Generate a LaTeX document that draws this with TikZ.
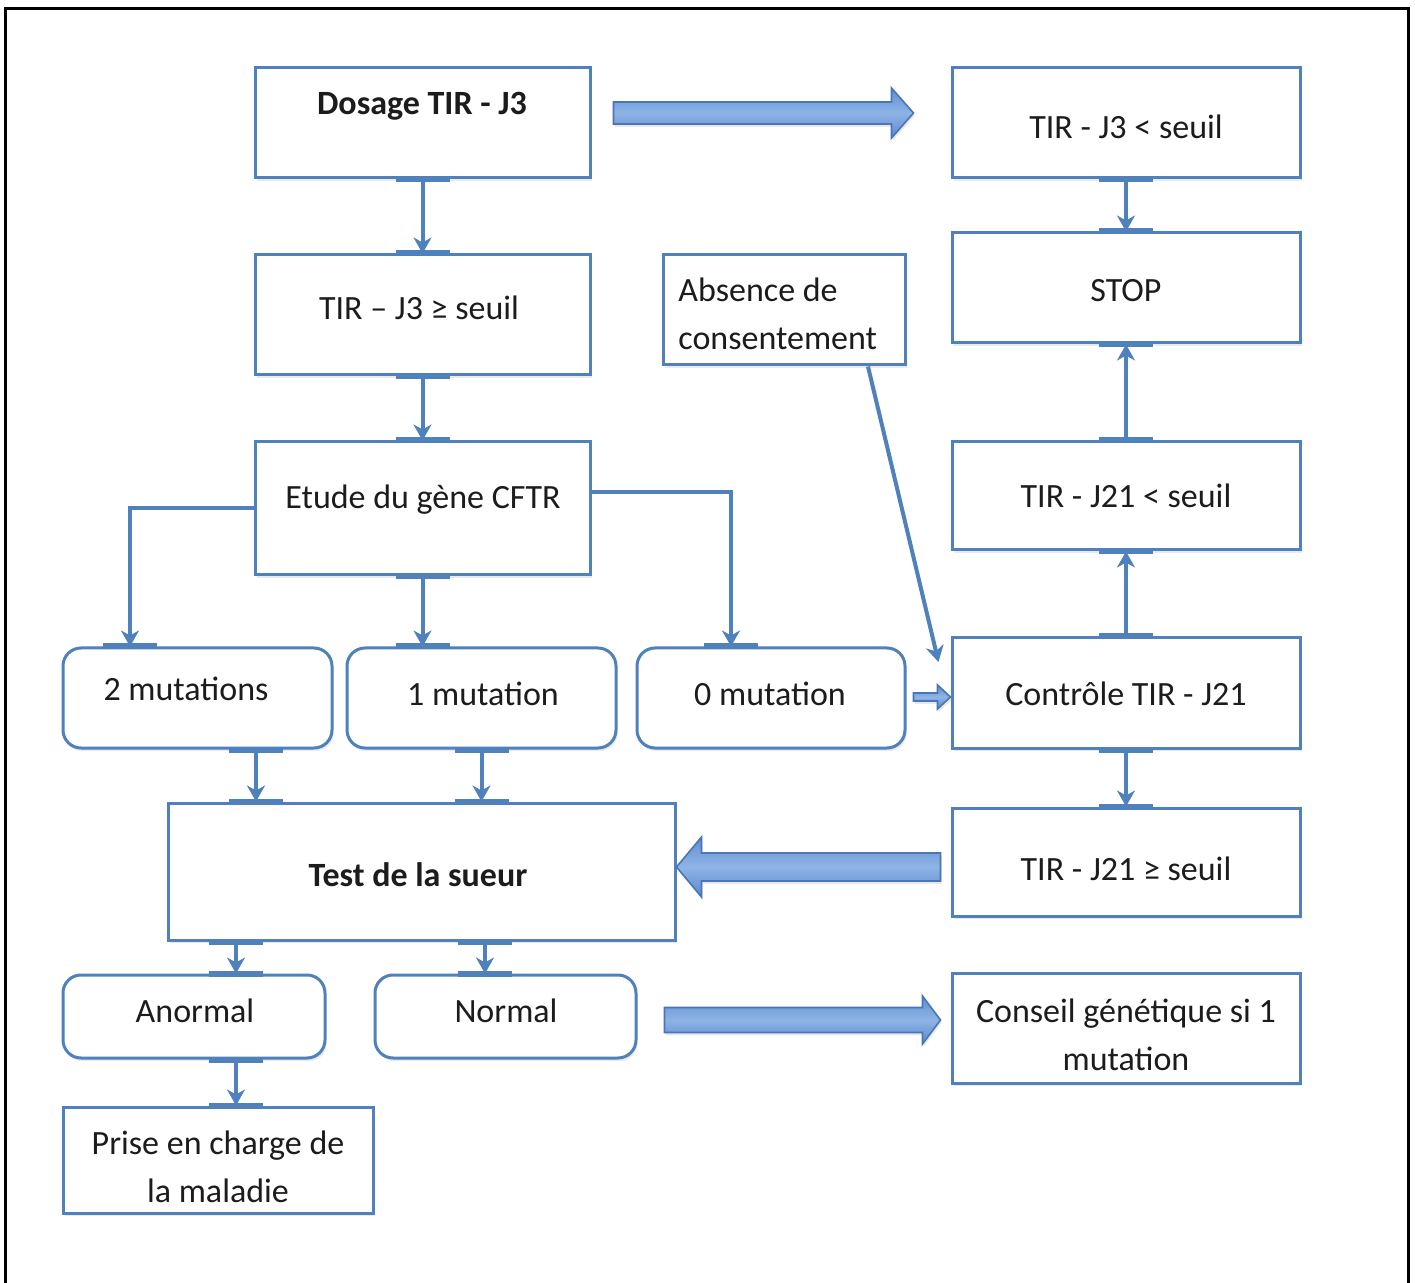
\documentclass[tikz,border=0pt]{standalone}
\usepackage{fontspec}
\setmainfont{Carlito}
\usetikzlibrary{arrows.meta,calc,shadows}
\definecolor{boxblue}{RGB}{79,129,189}
\definecolor{linkblue}{RGB}{79,129,189}
\definecolor{arrowedge}{RGB}{72,118,182}
\definecolor{arrowtop}{RGB}{98,142,208}
\definecolor{arrowmid}{RGB}{142,180,230}
\definecolor{arrowbot}{RGB}{92,136,204}
\definecolor{ink}{RGB}{28,28,28}

\tikzset{
  box/.style={draw=boxblue, line width=1.5pt, fill=white, inner sep=0pt, rectangle,
    drop shadow={shadow xshift=0.8pt, shadow yshift=-1.6pt, opacity=0.16}},
  rbox/.style={box, rounded corners=9pt},
  sz/.style 2 args={minimum width=#1*0.5pt, minimum height=#2*0.5pt},
  lbl/.style={font=\fontsize{17}{24}\selectfont, text=ink, inner sep=0pt, align=center},
  conn/.style={draw=linkblue, line width=2pt, -{Stealth[length=8pt,width=9pt,inset=2.5pt]}},
  jbar/.style={draw=linkblue, line width=3pt},
  blockarrow/.style={draw=arrowedge, line width=0.8pt, top color=arrowtop,
    bottom color=arrowbot, middle color=arrowmid,
    drop shadow={shadow xshift=0.6pt, shadow yshift=-1.4pt, opacity=0.18}}
}

% horizontal block arrow: start, tip, shaft half-height, head half-height, head length
\newcommand\blockarrow[5]{%
  \path[blockarrow] let \p1=(#1), \p2=(#2), \n1={sign(\x2-\x1)} in
    (\x1,{\y1+#3}) -- ({\x2-\n1*#5},{\y1+#3}) -- ({\x2-\n1*#5},{\y1+#4}) -- (\x2,\y1)
    -- ({\x2-\n1*#5},{\y1-#4}) -- ({\x2-\n1*#5},{\y1-#3}) -- (\x1,{\y1-#3}) -- cycle;}
% thick joint mark on a box edge
\newcommand\jointmark[1]{\draw[jbar] ([xshift=-13.5pt]#1) -- ([xshift=13.5pt]#1);}

\begin{document}
\begin{tikzpicture}[x=0.5pt,y=-0.5pt]
\useasboundingbox (0,0) rectangle (1415,1283);
\fill[white] (0,0) rectangle (1415,1283);
% outer frame, open at the bottom
\draw[line width=1.5pt, black] (5,1283) -- (5,9) -- (1408,9) -- (1408,1283);

% left column
\node[box, sz={335}{110}] (dos) at (422.5,123) {};
\node[box, sz={335}{120}] (tirs) at (422.5,315) {};
\node[box, sz={335}{133}] (etude) at (422.5,508.5) {};
\node[rbox, sz={269}{100}] (m2) at (197.5,698) {};
\node[rbox, sz={269}{100}] (m1) at (481.5,698) {};
\node[rbox, sz={268}{100}] (m0) at (771,698) {};
\node[box, sz={507}{137}] (test) at (421.5,871.5) {};
\node[rbox, sz={262}{83}] (anor) at (194,1016.5) {};
\node[rbox, sz={261}{83}] (norm) at (505.5,1016.5) {};
\node[box, sz={310}{106}] (prise) at (218,1160) {};
\node[box, sz={242}{110}] (abs) at (784,310) {};

% right column
\node[box, sz={348}{110}] (tirinf) at (1126,123) {};
\node[box, sz={348}{110}] (stop) at (1126,288) {};
\node[box, sz={348}{108}] (jinf) at (1126,496) {};
\node[box, sz={348}{110}] (ctrl) at (1126,693) {};
\node[box, sz={348}{108}] (jsup) at (1126,862) {};
\node[box, sz={348}{110}] (cons) at (1126,1028) {};

% texts (two-line labels are placed by the baseline of their last line)
\node[lbl, anchor=base] (dos-t) at (422,115) {\bfseries Dosage TIR - J3};
\node[lbl, anchor=base] (tirs-t) at (419,320) {TIR – J3 ≥ seuil};
\node[lbl, anchor=base] (etude-t) at (423,509) {Etude du gène CFTR};
\node[lbl, anchor=base] (m2-t) at (186,700) {2 mutations};
\node[lbl, anchor=base] (m1-t) at (483,705) {1 mutation};
\node[lbl, anchor=base] (m0-t) at (770,705) {0 mutation};
\node[lbl, anchor=base] (test-t) at (418,886) {\bfseries Test de la sueur};
\node[lbl, anchor=base] (anor-t) at (195,1022) {Anormal};
\node[lbl, anchor=base] (norm-t) at (506,1022) {Normal};
\node[lbl, anchor=base] (prise-t) at (218,1202) {Prise en charge de\\la maladie};
\node[lbl, anchor=base west, align=left] (abs-t) at (678,350) {Absence de\\consentement};
\node[lbl, anchor=base] (tirinf-t) at (1126,139) {TIR - J3 < seuil};
\node[lbl, anchor=base] (stop-t) at (1126,302) {STOP};
\node[lbl, anchor=base] (jinf-t) at (1126,508) {TIR - J21 < seuil};
\node[lbl, anchor=base] (ctrl-t) at (1126,705) {Contrôle TIR - J21};
\node[lbl, anchor=base] (jsup-t) at (1126,880) {TIR - J21 ≥ seuil};
\node[lbl, anchor=base] (cons-t) at (1126,1070) {Conseil génétique si 1\\mutation};

% connector end points
\coordinate (e2) at ([xshift=-33.75pt]m2.north);
\coordinate (e0) at ([xshift=-20pt]m0.north);
\coordinate (s2) at ([xshift=29.25pt]m2.south);
\coordinate (ta) at ([xshift=21pt]anor.north);
\coordinate (tn) at ([xshift=-10.25pt]norm.north);

% joint marks on the box edges
\jointmark{dos.south} \jointmark{tirs.north}
\jointmark{tirs.south} \jointmark{etude.north}
\jointmark{etude.south} \jointmark{etude.south |- m1.north}
\jointmark{e2} \jointmark{e0}
\jointmark{s2} \jointmark{s2 |- test.north}
\jointmark{m1.south} \jointmark{m1.south |- test.north}
\jointmark{ta |- test.south} \jointmark{ta}
\jointmark{tn |- test.south} \jointmark{tn}
\jointmark{ta |- anor.south} \jointmark{ta |- prise.north}
\jointmark{tirinf.south} \jointmark{stop.north}
\jointmark{stop.south} \jointmark{jinf.north}
\jointmark{jinf.south} \jointmark{ctrl.north}
\jointmark{ctrl.south} \jointmark{jsup.north}

% connectors
\draw[conn] (dos.south) -- (tirs.north);
\draw[conn] (tirs.south) -- (etude.north);
\draw[conn] (etude.south) -- (etude.south |- m1.north);
\draw[conn] (etude.west) -| (e2);
\draw[conn] ([yshift=8pt]etude.east) -| (e0);
\draw[conn] (s2) -- (s2 |- test.north);
\draw[conn] (m1.south) -- (m1.south |- test.north);
\draw[conn] (ta |- test.south) -- (ta);
\draw[conn] (tn |- test.south) -- (tn);
\draw[conn] (ta |- anor.south) -- (ta |- prise.north);
\draw[conn] ([xshift=42pt]abs.south) -- ([xshift=-6pt,yshift=15.5pt]ctrl.west);
\draw[conn] (tirinf.south) -- (stop.north);
\draw[conn] (jinf.north) -- (stop.south);
\draw[conn] (ctrl.north) -- (jinf.south);
\draw[conn] (ctrl.south) -- (jsup.north);

% block arrows
\coordinate (a1) at ([xshift=11pt,yshift=5pt]dos.east);
\coordinate (a2) at ([xshift=-18.5pt,yshift=5pt]tirinf.west);
\coordinate (b1) at ([xshift=3.5pt,yshift=0.5pt]m0.east);
\coordinate (b2) at ([yshift=-2pt]ctrl.west);
\coordinate (c1) at ([xshift=-5pt,yshift=-2.5pt]jsup.west);
\coordinate (c2) at (test.east);
\coordinate (d1) at ([xshift=13.5pt,yshift=-1.75pt]norm.east);
\coordinate (d2) at ([xshift=-5pt]cons.west);
\blockarrow{a1}{a2}{5.5pt}{12.5pt}{11pt}
\blockarrow{b1}{b2}{2pt}{6pt}{6.5pt}
\blockarrow{c1}{c2}{7pt}{15pt}{12.5pt}
\blockarrow{d1}{d2}{6.25pt}{12pt}{9pt}
\end{tikzpicture}
\end{document}
